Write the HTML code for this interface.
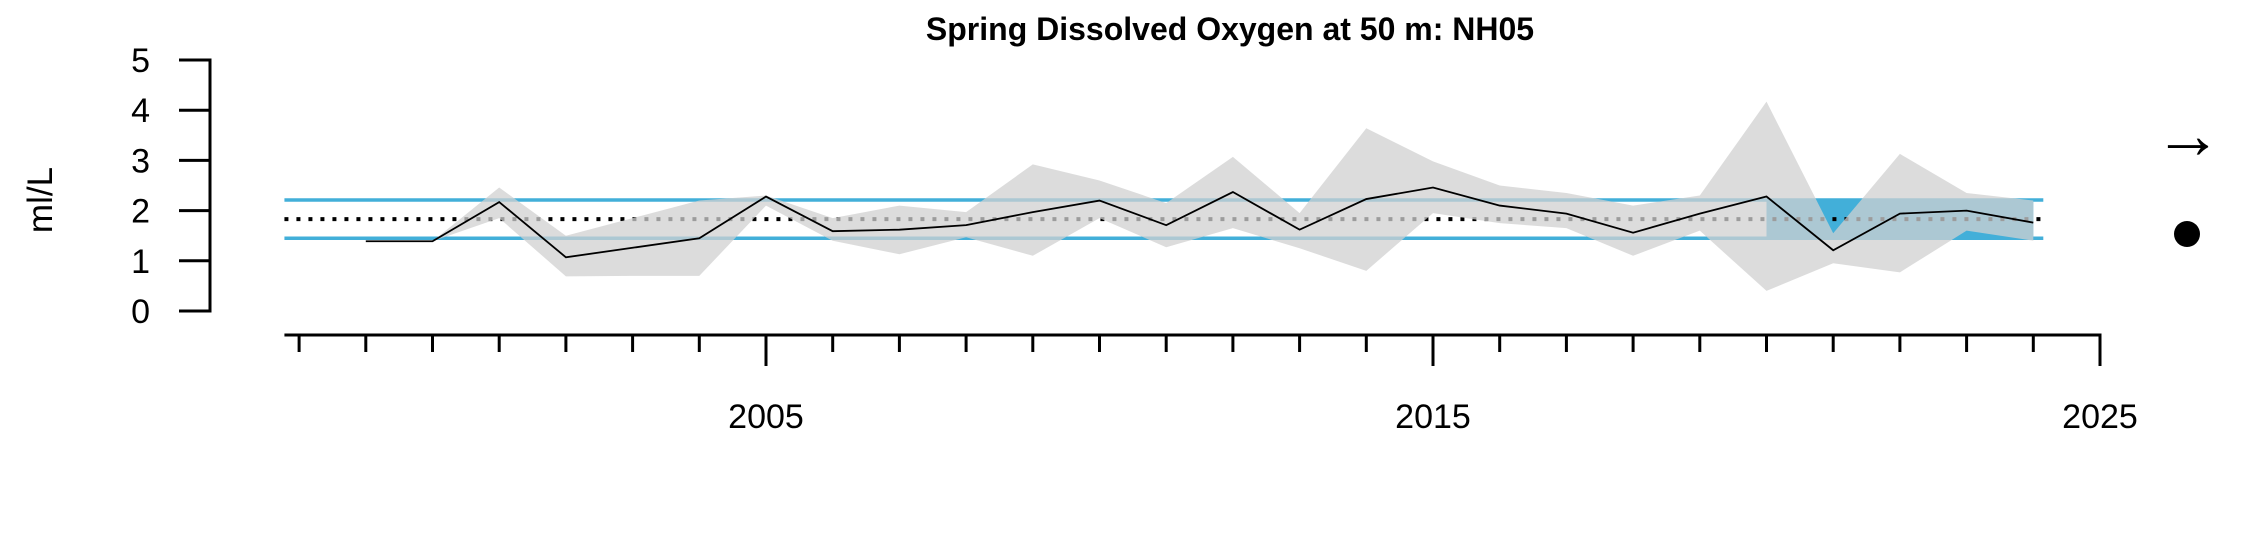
<!DOCTYPE html>
<html><head><meta charset="utf-8"><style>
html,body{margin:0;padding:0;background:#fff;}
svg{display:block;font-family:"Liberation Sans",Arial,sans-serif;}
</style></head><body>
<svg id="chart" width="2250" height="540" viewBox="0 0 2250 540" xmlns="http://www.w3.org/2000/svg">
<text x="1230" y="40" text-anchor="middle" font-size="32" font-weight="bold">Spring Dissolved Oxygen at 50 m: NH05</text>
<text transform="translate(52,200) rotate(-90)" text-anchor="middle" font-size="35">ml/L</text>
<g id="plot"></g>
<text x="2188" y="158" text-anchor="middle" font-size="68">→</text>
<circle cx="2187" cy="234" r="13" fill="#000"/>
</svg>
<script>
const years=[1999,2000,2001,2002,2003,2004,2005,2006,2007,2008,2009,2010,2011,2012,2013,2014,2015,2016,2017,2018,2019,2020,2021,2022,2023,2024];
const values=[1.39,1.39,2.17,1.07,1.26,1.45,2.28,1.59,1.62,1.71,1.97,2.2,1.71,2.37,1.62,2.23,2.46,2.1,1.94,1.56,1.94,2.28,1.21,1.94,2.0,1.76];
const upper=[1.39,1.39,2.46,1.5,1.85,2.2,2.3,1.85,2.1,1.97,2.92,2.6,2.15,3.07,1.95,3.64,2.98,2.5,2.35,2.1,2.3,4.17,1.55,3.13,2.35,2.2];
const lower=[1.39,1.39,1.85,0.69,0.7,0.7,2.1,1.4,1.13,1.47,1.1,1.85,1.27,1.65,1.25,0.8,1.95,1.75,1.65,1.1,1.6,0.4,0.95,0.77,1.6,1.4];
const meanVal=1.83, sdHigh=2.21, sdLow=1.45;
const yTicks=[0,1,2,3,4,5];
const xLabels=[2005,2015,2025];
const NS="http://www.w3.org/2000/svg";
const X=y=>766+66.7*(y-2005);
const Y=v=>311-50.2*v;
const g=document.getElementById('plot');
function mk(t,a){const e=document.createElementNS(NS,t);for(const k in a)e.setAttribute(k,a[k]);g.appendChild(e);return e;}
const x0=X(1997.78), x1=X(2024.15);
let r=mk('rect',{x:X(2020),y:Y(sdHigh),width:X(2024)-X(2020),height:Y(sdLow)-Y(sdHigh),fill:'#42afd9'});


let l=mk('line',{x1:x0,x2:x1,y1:Y(sdHigh),y2:Y(sdHigh),stroke:'#42afd9','stroke-width':3.5});


l=mk('line',{x1:x0,x2:x1,y1:Y(sdLow),y2:Y(sdLow),stroke:'#42afd9','stroke-width':3.5});


l=mk('line',{x1:x0,x2:x1,y1:Y(meanVal),y2:Y(meanVal),stroke:'#000','stroke-width':4,'stroke-dasharray':'4 8'});


let pts=years.map((y,i)=>X(y)+','+Y(upper[i]));
for(let i=years.length-1;i>=0;i--)pts.push(X(years[i])+','+Y(lower[i]));
let band=mk('polygon',{points:pts.join(' '),fill:'rgb(208,208,208)','fill-opacity':0.75});


let pl=mk('polyline',{points:years.map((y,i)=>X(y)+','+Y(values[i])).join(' '),fill:'none',stroke:'#000','stroke-width':1.8});


let ya=mk('line',{x1:210,x2:210,y1:Y(0)+1.5,y2:Y(5)-1.5,stroke:'#000','stroke-width':3});


yTicks.forEach(v=>{
  let t=mk('line',{x1:179,x2:210,y1:Y(v),y2:Y(v),stroke:'#000','stroke-width':3});
  
  
  let tx=mk('text',{x:150,y:Y(v)+12,'text-anchor':'end','font-size':34});
  tx.textContent=v;
  
  
});
let xa=mk('line',{x1:X(1997.78),x2:X(2025)+1.5,y1:335,y2:335,stroke:'#000','stroke-width':3});


for(let y=1998;y<=2025;y++){
  const major=xLabels.includes(y);
  let t=mk('line',{x1:X(y),x2:X(y),y1:335,y2:major?366:352,stroke:'#000','stroke-width':3});
  
  
}
xLabels.forEach(y=>{
  let tx=mk('text',{x:X(y),y:428,'text-anchor':'middle','font-size':34});
  tx.textContent=y;
  
  
});
</script>
</body></html>
